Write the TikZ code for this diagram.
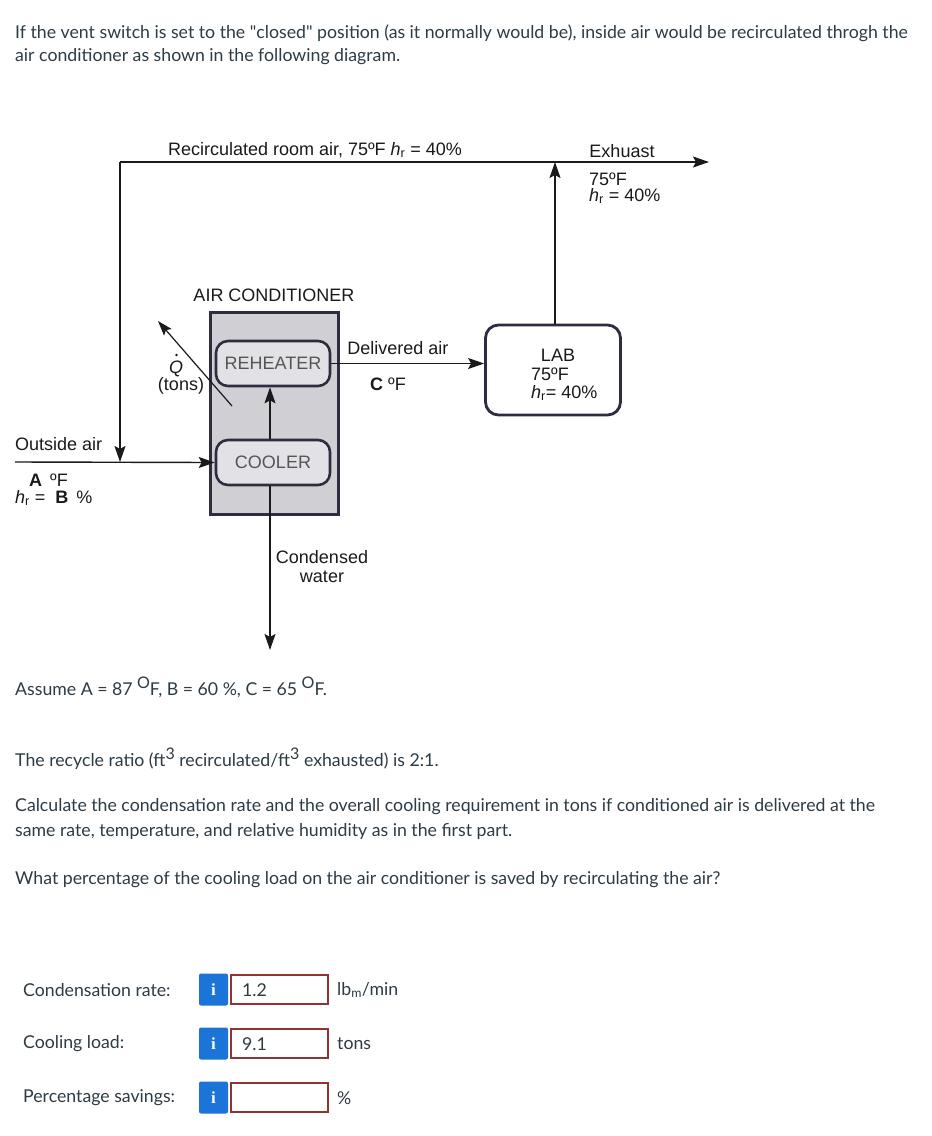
\documentclass[tikz,border=0pt]{standalone}
\usepackage{fontspec}
\setmainfont{Lato}
\newfontfamily\latoq{Lato}
\newfontfamily\dgm{Liberation Sans}
\newfontfamily\iconfont{Liberation Serif}
\usetikzlibrary{arrows.meta}
\definecolor{txt}{HTML}{2D3B45}
\definecolor{ln}{HTML}{1A1A1A}
\definecolor{boxline}{HTML}{2E2C3E}
\definecolor{acfill}{HTML}{D0CFD4}
\definecolor{subfill}{HTML}{E2E1E6}
\definecolor{subtxt}{HTML}{555555}
\definecolor{infoblue}{HTML}{1B74D8}
\definecolor{ansred}{HTML}{943131}
\newcommand{\bigsup}[1]{\raisebox{7pt}{\fontsize{16}{16}\selectfont #1}}
\begin{document}
\begin{tikzpicture}[x=1pt,y=-1pt,
  body/.style={inner sep=0pt,anchor=west,text=txt,font=\fontsize{17.7}{21}\selectfont},
  dtext/.style={inner sep=0pt,text=ln,font=\dgm\fontsize{18}{19}\selectfont},
  flow/.style={draw=ln,line width=1.4pt,-{Stealth[length=16pt,width=11pt,inset=3pt]}},
  subunit/.style={draw=boxline,line width=2.6pt,fill=subfill,rounded corners=12pt,minimum width=114pt,minimum height=45pt,text=subtxt,font=\dgm\fontsize{18}{20}\selectfont,inner sep=0pt},
  infobox/.style={fill=infoblue,rounded corners=2pt,minimum width=29pt,minimum height=32pt,inner sep=0pt,text=white,font=\iconfont\bfseries\fontsize{17}{20}\selectfont},
  ansbox/.style={draw=ansred,line width=2.6pt,minimum width=97pt,minimum height=29pt,inner sep=0pt,anchor=west},
]
\useasboundingbox (0,0) rectangle (932,1136);
\fill[white] (0,0) rectangle (932,1136);

% intro text
\node[body] (intro1) at (15,33) {If the vent switch is set to the {\latoq"}closed{\latoq"} position (as it normally would be), inside air would be recirculated throgh the};
\node[body] (intro2) at (15,57) {air conditioner as shown in the following diagram.};

% air conditioner
\node[draw=boxline,line width=3pt,fill=acfill,minimum width=128pt,minimum height=202pt,inner sep=0pt] (ac) at (274,413.5) {};
\node[dtext] (actitle) at (274,295) {AIR CONDITIONER};
\node[subunit] (reheater) at (273,363.5) {REHEATER};
\node[subunit] (cooler) at (273,462.5) {COOLER};

% lab
\node[draw=boxline,line width=2.8pt,fill=white,rounded corners=13pt,minimum width=135pt,minimum height=90pt,inner sep=0pt] (lab) at (553,370) {};
\node[dtext] (labt1) at (558,355) {LAB};
\node[dtext,anchor=west] (labt2) at (531,374) {75ºF};
\node[dtext,anchor=west] (labt3) at (531,393) {\textit{h}\textsubscript{r}= 40\%};

% coordinates
\coordinate (tl) at (120,162);
\coordinate (tr) at (709,162);
\coordinate (ex) at (555,162);
\coordinate (mix) at (120,462);
\coordinate (oa) at (15,462);
\coordinate (water) at (270,650);
\coordinate (qs) at (232,406);
\coordinate (qe) at (158,321);

% connectors
\draw[flow] (tl) -- (tr);
\draw[flow] (tl) -- (mix);
\draw[flow] (oa) -- (cooler.west);
\draw[flow] (lab.north -| ex) -- (ex);
\draw[flow] (cooler.north -| 270,0) -- (reheater.south -| 270,0);
\draw[flow] (cooler.south -| 270,0) -- (water);
\draw[flow] (reheater.east) -- (lab.west |- reheater.east);
\draw[draw=ln,line width=1.2pt,-{Stealth[length=15pt,width=10pt,inset=3pt]}] (qs) -- (qe);

% diagram labels
\node[dtext] (recirc) at (315,150) {Recirculated room air, 75ºF \textit{h}\textsubscript{r} = 40\%};
\node[dtext] (exh) at (622,151) {Exhuast};
\node[dtext,anchor=west] (exh2) at (589,179) {75ºF};
\node[dtext,anchor=west] (exh3) at (589,196) {\textit{h}\textsubscript{r} = 40\%};
\node[dtext] (deliv) at (398,348) {Delivered air};
\node[dtext] (ctemp) at (388,384) {\textbf{C} ºF};
\node[dtext] (qdot) at (176,369) {\textit{Q}};
\fill[ln] (176.5,355) circle (1.4pt);
\node[dtext] (tons) at (181,386) {(tons)};
\node[dtext,anchor=west] (oair) at (15,444) {Outside air};
\node[dtext,anchor=west] (atemp) at (29,480) {\textbf{A} \,ºF};
\node[dtext,anchor=west] (bhum) at (15,498) {\textit{h}\textsubscript{r} = \ \textbf{B} \,\%};
\node[dtext,align=center] (cond) at (322,567) {Condensed\\water};

% problem text
\node[body] (assume) at (15,687) {Assume A = 87 \bigsup{O}F, B = 60 \%, C = 65 \bigsup{O}F.};
\node[body] (ratio) at (15,759) {The recycle ratio (ft\bigsup{3} recirculated/ft\bigsup{3} exhausted) is 2:1.};
\node[body] (calc1) at (15,807) {Calculate the condensation rate and the overall cooling requirement in tons if conditioned air is delivered at the};
\node[body] (calc2) at (15,831) {same rate, temperature, and relative humidity as in the first part.};
\node[body] (what) at (15,880) {What percentage of the cooling load on the air conditioner is saved by recirculating the air?};

% answers
\node[body] (q1) at (23,990) {Condensation rate:};
\node[infobox] (i1) at (213.5,989.5) {i};
\node[ansbox] (a1) at (229.5,989.5) {};
\node[body] (v1) at (242,990) {1.2};
\node[body] (u1) at (337,990) {lb\textsubscript{m}/min};

\node[body] (q2) at (23,1044) {Cooling load:};
\node[infobox] (i2) at (213.5,1043.5) {i};
\node[ansbox] (a2) at (229.5,1043.5) {};
\node[body] (v2) at (242,1044) {9.1};
\node[body] (u2) at (337,1044) {tons};

\node[body] (q3) at (23,1098) {Percentage savings:};
\node[infobox] (i3) at (213.5,1097.5) {i};
\node[ansbox] (a3) at (229.5,1097.5) {};
\node[body] (u3) at (337,1098) {\%};
\end{tikzpicture}
\end{document}
